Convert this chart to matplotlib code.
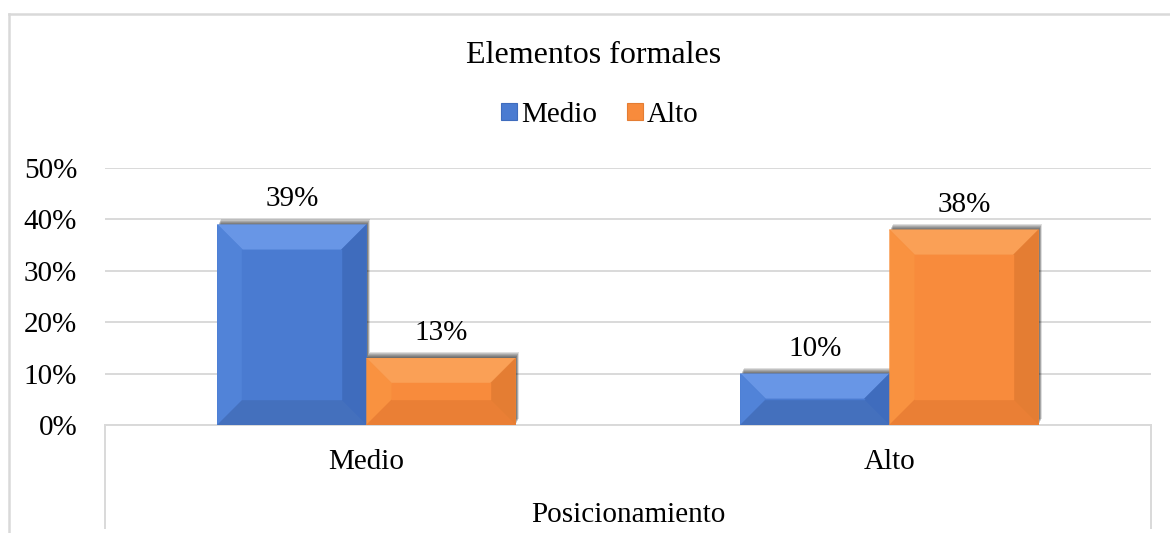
import matplotlib
matplotlib.use('Agg')
import matplotlib.pyplot as plt
from matplotlib.patches import Polygon, Patch
from matplotlib.lines import Line2D
import matplotlib.patheffects as pe
import numpy as np

# ---- data ----
title = "Elementos formales"
categories = ["Medio", "Alto"]
series_names = ["Medio", "Alto"]
medio_values = [0.39, 0.10]
alto_values = [0.13, 0.38]
value_labels_medio = ["39%", "10%"]
value_labels_alto = ["13%", "38%"]
ytick_values = [0.0, 0.1, 0.2, 0.3, 0.4, 0.5]
ytick_labels = ["0%", "10%", "20%", "30%", "40%", "50%"]
xlabel = "Posicionamiento"

# ---- style ----
plt.rcParams['font.family'] = ['Liberation Serif', 'DejaVu Serif']
FS = 21
GRID = '#d9d9d9'
blue = dict(face='#4a7bd1', top='#6896e6', left='#5183d8', right='#3f6cbd', bottom='#4470bd')
orange = dict(face='#f88b3c', top='#faa056', left='#f99240', right='#e47d33', bottom='#ea7f35')

W, H = 1170, 533
fig = plt.figure(figsize=(W / 100, H / 100), dpi=100)
ax = fig.add_axes([105 / W, 1 - 425 / H, (1151 - 105) / W, (425 - 168) / H])

x = np.arange(len(categories))
bw = 0.285
shadow = [pe.SimplePatchShadow(offset=(o * 0.6, o), shadow_rgbFace='black', alpha=0.13)
          for o in (0.7, 1.4, 2.1, 2.8, 3.5, 4.2)] + [pe.Normal()]

bars_m = ax.bar(x - bw / 2, medio_values, bw, color=blue['face'], zorder=2, linewidth=0)
bars_a = ax.bar(x + bw / 2, alto_values, bw, color=orange['face'], zorder=2, linewidth=0)
for b in list(bars_m) + list(bars_a):
    b.set_path_effects(shadow)

ax.set_xlim(-0.5, len(categories) - 0.5)
ax.set_ylim(0, 0.5)


def bevel(rect, cols, size=25):
    trans = ax.transData
    inv = trans.inverted()
    x0, y0 = rect.get_x(), rect.get_y()
    w, h = rect.get_width(), rect.get_height()
    px0, py0 = trans.transform((x0, y0))
    px1, py1 = trans.transform((x0 + w, y0 + h))
    s = min(size, (py1 - py0) / 2, (px1 - px0) / 2)
    BL, BR, TR, TL = (px0, py0), (px1, py0), (px1, py1), (px0, py1)
    iBL, iBR = (px0 + s, py0 + s), (px1 - s, py0 + s)
    iTR, iTL = (px1 - s, py1 - s), (px0 + s, py1 - s)
    polys = [([TL, TR, iTR, iTL], cols['top']),
             ([TL, iTL, iBL, BL], cols['left']),
             ([TR, BR, iBR, iTR], cols['right']),
             ([BL, BR, iBR, iBL], cols['bottom']),
             ([iBL, iBR, iTR, iTL], cols['face'])]
    for pts, c in polys:
        d = inv.transform(np.array(pts))
        ax.add_patch(Polygon(d, closed=True, facecolor=c, edgecolor=c,
                             linewidth=0.3, zorder=3))


for b in bars_m:
    bevel(b, blue)
for b in bars_a:
    bevel(b, orange)

# value labels
for bars, labs in ((bars_m, value_labels_medio), (bars_a, value_labels_alto)):
    for b, lab in zip(bars, labs):
        ax.annotate(lab, (b.get_x() + b.get_width() / 2, b.get_height()),
                    xytext=(0, 13), textcoords='offset points',
                    ha='center', va='baseline', fontsize=FS, color='#000000', zorder=5)

# axes styling
ax.set_yticks(ytick_values)
ax.set_yticklabels(ytick_labels)
ax.set_xticks(x)
ax.set_xticklabels(categories)
ax.tick_params(axis='y', length=0, pad=20, labelsize=FS)
ax.tick_params(axis='x', length=0, pad=17, labelsize=FS)
ax.grid(axis='y', color=GRID, linewidth=1.4, zorder=0)
ax.set_axisbelow(True)
for s in ('top', 'right', 'left'):
    ax.spines[s].set_visible(False)
ax.spines['bottom'].set_color(GRID)
ax.spines['bottom'].set_linewidth(1.4)
ax.spines['bottom'].set_zorder(1)

# category box lines below the axis
ax_h_px = 425 - 168
depth = (528 - 425) / ax_h_px
for xx in (0, 1):
    ax.plot([xx, xx], [0, -depth], transform=ax.transAxes, color=GRID,
            linewidth=1.4, clip_on=False)

# chart title, axis title
fig.text(594 / W, 1 - 63 / H, title, ha='center', va='baseline', fontsize=23)
fig.text(628 / W, 1 - 522 / H, xlabel, ha='center', va='baseline', fontsize=FS)

# legend
handles = [Patch(facecolor=blue['face'], edgecolor=blue['right'], linewidth=0.8),
           Patch(facecolor=orange['face'], edgecolor=orange['right'], linewidth=0.8)]
fig.legend(handles, series_names, loc='center', bbox_to_anchor=(600 / W, 1 - 115 / H),
           ncol=2, frameon=False, fontsize=FS, handlelength=0.55, handleheight=0.55,
           handletextpad=0.15, columnspacing=1.0, borderpad=0)

# outer chart frame
fig.add_artist(Line2D([9 / W, 9 / W], [0, 1 - 14 / H], color=GRID, linewidth=1.8))
fig.add_artist(Line2D([9 / W, 1], [1 - 14 / H, 1 - 14 / H], color=GRID, linewidth=1.8))

fig.savefig('out.png', dpi=100)
